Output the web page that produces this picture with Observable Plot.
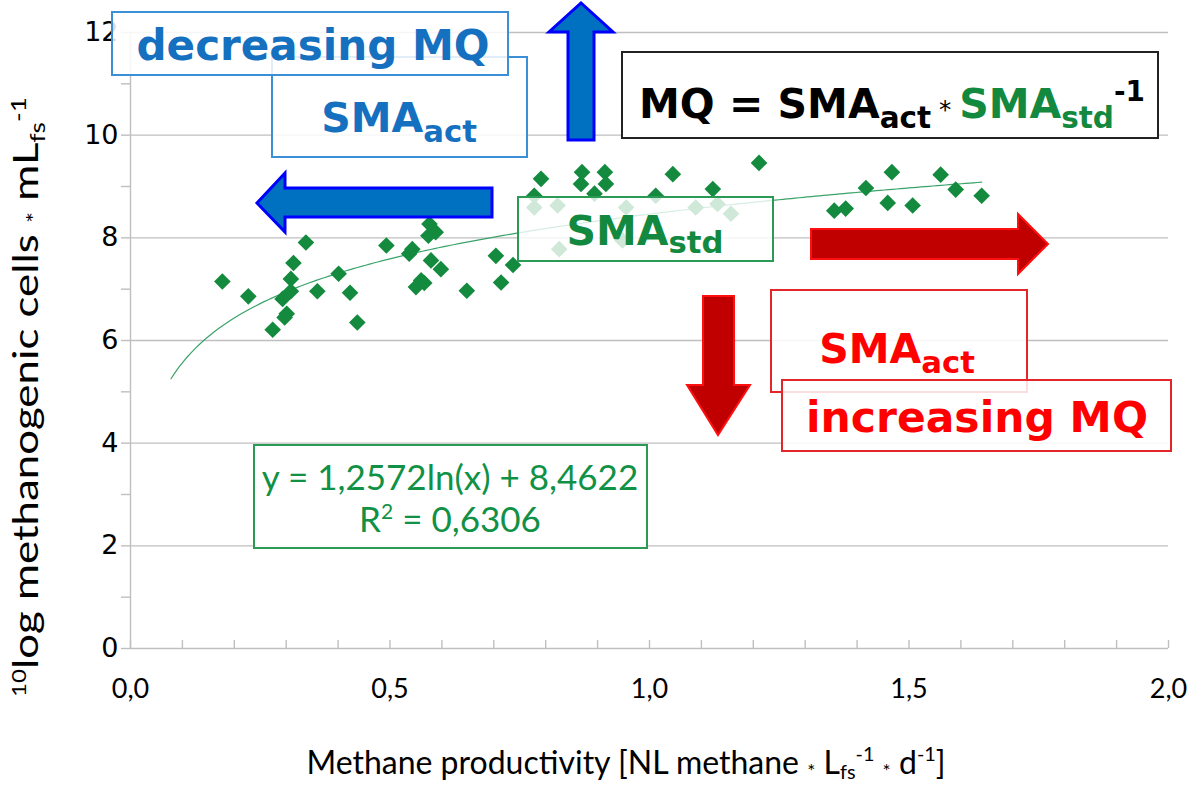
<!DOCTYPE html>
<html><head><meta charset="utf-8">
<script src="https://cdn.jsdelivr.net/npm/d3@7"></script>
<script src="https://cdn.jsdelivr.net/npm/@observablehq/plot@0.6"></script>
<style>
html,body{margin:0;padding:0;background:#fff;}
#chart{position:relative;width:1200px;height:787px;}
</style></head><body><div id="chart"></div>
<script>
// ---- data ----
const productivity = [0.177,0.227,0.274,0.293,0.297,0.301,0.309,0.309,0.314,0.338,0.360,0.401,0.423,0.437,0.493,0.537,0.543,0.550,0.560,0.566,0.574,0.576,0.588,0.579,0.598,0.648,0.704,0.714,0.737,0.778,0.778,0.791,0.823,0.826,0.868,0.870,0.894,0.914,0.916,0.948,0.955,1.012,1.045,1.089,1.122,1.131,1.157,1.211,1.356,1.378,1.417,1.467,1.459,1.507,1.561,1.590,1.640];
const cells = [7.15,6.86,6.21,6.81,6.45,6.52,6.96,7.20,7.51,7.91,6.96,7.30,6.93,6.35,7.85,7.69,7.78,7.04,7.17,7.12,8.04,8.27,8.11,7.56,7.39,6.97,7.65,7.13,7.47,8.82,8.59,9.15,8.63,7.78,9.05,9.28,8.86,9.28,9.05,7.95,8.59,8.82,9.24,8.59,8.95,8.66,8.47,9.46,8.53,8.57,8.97,9.28,8.68,8.63,9.23,8.94,8.82];
const trendSlope = 1.2572, trendIntercept = 8.4622, trendR2 = "0,6306";
const trendFrom = 0.078, trendTo = 1.64;
const xTicks = [0, 0.5, 1, 1.5, 2];
const xMinorTicks = d3.range(0, 21).map(i => i / 10);
const yTicks = [0, 2, 4, 6, 8, 10, 12];
const yMinorTicks = d3.range(0, 13);

const pts = productivity.map((x, i) => ({x, y: cells[i]}));
const trend = d3.range(0, 201).map(i => trendFrom + (trendTo - trendFrom) * i / 200)
  .map(x => ({x, y: trendSlope * Math.log(x) + trendIntercept}));
const fmt = d => d3.format(".1f")(d).replace(".", ",");

const GRID = "#bfbfbf";
const plot = Plot.plot({
  width: 1200, height: 787,
  marginLeft: 130, marginRight: 32, marginTop: 32, marginBottom: 139,
  style: {fontFamily: "Lato, sans-serif", fontSize: "24px", color: "#000", background: "#fff"},
  x: {domain: [0, 2], label: null},
  y: {domain: [0, 12], label: null},
  marks: [
    Plot.gridY(yTicks.slice(1), {stroke: GRID, strokeOpacity: 1, strokeWidth: 1.4}),
    Plot.axisY(yMinorTicks, {tickSize: 9, tickPadding: 3, stroke: GRID, strokeWidth: 1.4, fill: "#000",
      fontFamily: "DejaVu Sans", fontSize: 27, tickFormat: d => d % 2 === 0 ? String(d) : ""}),
    Plot.axisX(xMinorTicks, {tickSize: 8, dy: -8, stroke: GRID, strokeWidth: 1.4, tickFormat: () => ""}),
    Plot.axisX(xTicks, {tickSize: 0, tickPadding: 30, fill: "#000", fontFamily: "Lato", fontSize: 27, tickFormat: fmt}),
    Plot.ruleY([0], {stroke: GRID, strokeWidth: 1.4}),
    Plot.ruleX([0], {stroke: GRID, strokeWidth: 1.4}),
    Plot.line(trend, {x: "x", y: "y", stroke: "#3aa36a", strokeWidth: 1.2}),
    Plot.dot(pts, {x: "x", y: "y", symbol: "diamond2", r: 7.5, fill: "#138a3e"})
  ]
});
document.getElementById("chart").appendChild(plot);

// ---- annotations ----
const svg = d3.select(plot);
const g = svg.append("g");

function rich(parent, x, y, segs, o) {
  const size = o.size;
  const t = parent.append("text").attr("x", x).attr("y", y)
    .attr("font-family", o.family).attr("font-size", size)
    .attr("font-weight", o.weight || "normal").attr("fill", o.fill || "#000")
    .attr("text-anchor", o.anchor || "middle");
  if (o.rotate) t.attr("transform", `rotate(${o.rotate},${x},${y})`);
  if (o.length) t.attr("textLength", o.length).attr("lengthAdjust", o.adjust || "spacing");
  let cur = 0;
  for (const s of segs) {
    const shift = s.sub ? size * (s.shift || 0.28) : s.sup ? -size * (s.shift || 0.42) : (s.low ? size * 0.12 : 0);
    const ts = t.append("tspan").attr("dy", shift - cur).text(s.t);
    if (s.scale) ts.attr("font-size", size * s.scale);
    else if (s.sub || s.sup) ts.attr("font-size", size * 0.65);
    if (s.fill) ts.attr("fill", s.fill);
    if (s.weight) ts.attr("font-weight", s.weight);
    cur = shift;
  }
  return t;
}
function box(x0, y0, x1, y1, stroke, fillOpacity, sw) {
  g.append("rect").attr("x", x0).attr("y", y0).attr("width", x1 - x0).attr("height", y1 - y0)
    .attr("fill", "#fff").attr("fill-opacity", fillOpacity).attr("stroke", stroke).attr("stroke-width", sw || 2);
}
function poly(points, fill, stroke, sw) {
  g.append("polygon").attr("points", points.map(p => p.join(",")).join(" "))
    .attr("fill", fill).attr("stroke", stroke).attr("stroke-width", sw).attr("stroke-linejoin", "miter");
}
const BLUE_T = "#1570c0", BLUE_B = "#3a8fd6", RED_T = "#ff0000", RED_B = "#e3262a";
const GREEN_T = "#12893f", GREEN_B = "#2a9a55";
const BOLD = "DejaVu Sans";

// blue SMAact box and decreasing MQ box
box(272, 57, 527, 157, BLUE_B, 0.85);
rich(g, 399, 132, [{t: "SMA"}, {t: "act", sub: true, scale: 0.75, shift: 0.25}], {size: 41, family: BOLD, weight: "bold", fill: BLUE_T});
box(112, 12, 508, 75, BLUE_B, 0.85);
rich(g, 313, 60, [{t: "decreasing MQ"}], {size: 42, family: BOLD, weight: "bold", fill: BLUE_T, length: 353, adjust: "spacingAndGlyphs"});

// up arrow
poly([[568,140],[568,32],[549,32],[581,3],[613,32],[594,32],[594,140]], "#0070c0", "#0000ff", 3);
// left arrow
poly([[492,188],[285,188],[285,173],[257,203],[285,232],[285,217],[492,217]], "#0070c0", "#0000ff", 3);

// MQ formula box
box(622, 52, 1158, 138, "#222", 0.95, 2);
rich(g, 892, 118, [
  {t: "MQ = SMA"}, {t: "act", sub: true, scale: 0.72, shift: 0.25},
  {t: " * ", scale: 0.6, weight: "normal"}, {t: "SMA", fill: GREEN_T},
  {t: "std", sub: true, scale: 0.72, shift: 0.25, fill: GREEN_T}, {t: "-1", sup: true, scale: 0.68, shift: 0.42}
], {size: 41, family: BOLD, weight: "bold", fill: "#000"});

// SMAstd box
box(518, 197, 773, 261, GREEN_B, 0.8);
rich(g, 645, 245, [{t: "SMA"}, {t: "std", sub: true, scale: 0.75, shift: 0.2}], {size: 41, family: BOLD, weight: "bold", fill: GREEN_T});

// red arrows
poly([[811,229],[1018,229],[1018,214],[1048,244],[1018,274],[1018,259],[811,259]], "#c00000", "#ff1010", 2);
poly([[703,296],[734,296],[734,385],[750,385],[718,435],[687,385],[703,385]], "#c00000", "#ff1010", 2);

// red boxes
box(771, 290, 1027, 392, RED_B, 0.85);
rich(g, 897, 363, [{t: "SMA"}, {t: "act", sub: true, scale: 0.75, shift: 0.25}], {size: 41, family: BOLD, weight: "bold", fill: RED_T});
box(782, 380, 1171, 451, RED_B, 0.85);
rich(g, 977, 432, [{t: "increasing MQ"}], {size: 43, family: BOLD, weight: "bold", fill: RED_T, length: 342, adjust: "spacingAndGlyphs"});

// equation box
box(254, 445, 647, 548, GREEN_B, 0.9);
rich(g, 450, 490, [{t: `y = ${String(trendSlope).replace(".", ",")}ln(x) + ${String(trendIntercept).replace(".", ",")}`}], {size: 35, family: "Lato", fill: "#119146"});
rich(g, 450, 532, [{t: "R"}, {t: "2", sup: true, scale: 0.6, shift: 0.38}, {t: " = " + trendR2}], {size: 35, family: "Lato", fill: "#119146"});

// axis titles
rich(svg, 626, 774, [
  {t: "Methane productivity [NL methane "}, {t: "*", scale: 0.6, low: true}, {t: " L"},
  {t: "fs", sub: true, scale: 0.62, shift: 0.16}, {t: "-1", sup: true, scale: 0.62, shift: 0.4},
  {t: " "}, {t: "*", scale: 0.6, low: true}, {t: " d"}, {t: "-1", sup: true, scale: 0.62, shift: 0.4}, {t: "]"}
], {size: 32, family: "Lato", fill: "#000"});
rich(svg, 38, 397, [
  {t: "10", sup: true, scale: 0.55, shift: 0.36}, {t: "log methanogenic cells "}, {t: "*", scale: 0.6, low: true},
  {t: " mL"}, {t: "fs", sub: true, scale: 0.6, shift: 0.2}, {t: "-1", sup: true, scale: 0.6, shift: 0.36}
], {size: 34, family: "Lato", fill: "#000", rotate: -90, length: 600, adjust: "spacingAndGlyphs"});
</script></body></html>
